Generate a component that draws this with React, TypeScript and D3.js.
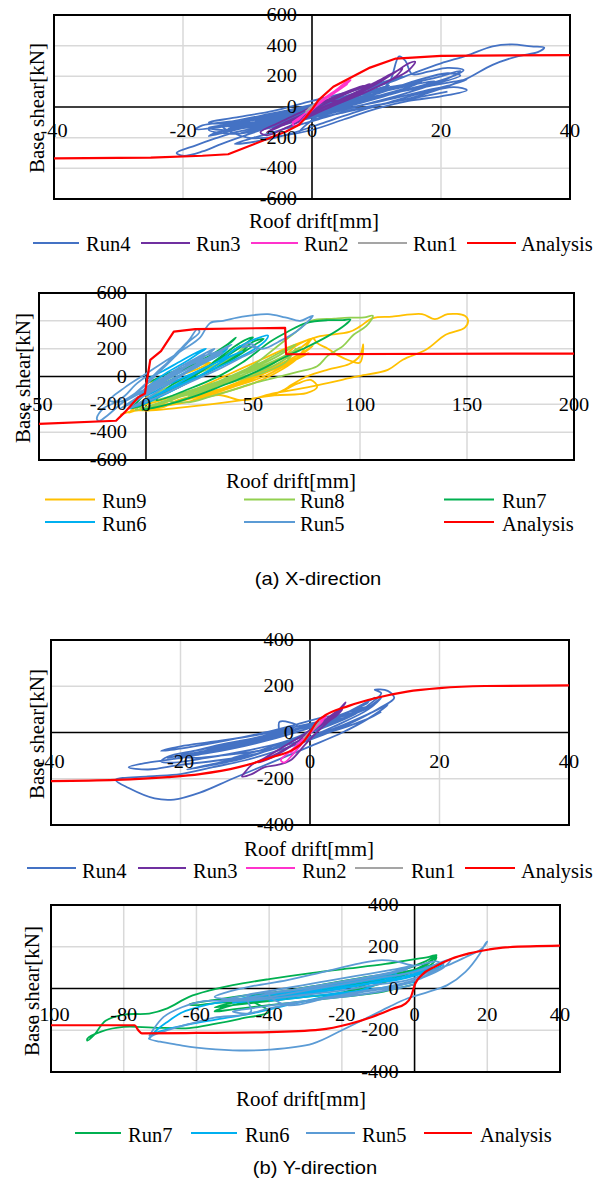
import React from 'react';
import * as d3 from 'd3';

type P = [number, number];

// ---------- (a) X-direction, Runs 1-4 ----------
const xaRun4: P[] = [
  [0, -10], [3, 30], [6, 70], [4, 45], [0, -15], [-4, -70], [-7, -110], [-5, -85], [0, -20], [5, 50], [9, 105], [12, 140],
  [10, 110], [5, 45], [0, -35], [-5, -95], [-10, -135], [-14, -150], [-16, -135], [-12, -110], [-6, -55], [0, 5], [6, 65],
  [12, 120], [16, 160], [20, 200], [23, 235], [22, 205], [18, 150], [12, 80], [6, 15], [0, -55], [-6, -115], [-12, -165],
  [-15, -205], [-18, -250], [-21, -300], [-20, -318], [-17, -290], [-14, -240], [-10, -180], [-5, -110], [0, -40], [5, 25],
  [10, 95], [12, 160], [13.5, 330], [14.5, 300], [15.5, 215], [18, 230], [21, 255], [23.5, 240], [21, 185], [15, 95], [9, 25],
  [3, -40], [-3, -100], [-8, -150], [-12, -175], [-16, -150], [-12, -105], [-6, -45], [0, 15], [6, 80], [12, 160], [16, 225],
  [20, 285], [24, 335], [28, 395], [31, 408], [34, 395], [36, 388], [35, 358], [32, 332], [28, 275], [24, 185], [20, 120],
  [15, 55], [10, 10], [5, -35], [0, -90], [-2, -160], [-1, -120], [2, -30], [8, 40], [14, 105], [19, 150], [23, 205], [21, 220],
  [16, 170], [10, 85], [4, 25], [-2, -40], [-8, -95], [-14, -130], [-18, -145], [-17, -120], [-12, -90], [-6, -40], [0, 10],
  [6, 70], [11, 120], [15, 150], [17, 165], [15, 130], [10, 70], [4, 10], [-2, -50], [-8, -110], [-13, -160], [-16, -190],
  [-15, -170], [-10, -120], [-4, -60], [2, 0], [8, 55], [13, 95], [18, 135], [22, 165], [24, 180], [22, 150], [17, 100],
  [11, 40], [5, -10], [0, -60], [-6, -120], [-11, -170], [-9, -150], [-4, -90], [2, -20], [7, 40], [12, 90], [14, 115],
  [12, 80], [7, 20], [1, -40], [-5, -90], [-10, -130], [-13, -140], [-9, -100], [-3, -40], [3, 20], [9, 80], [14, 130],
  [19, 170], [17, 140], [12, 90], [6, 30], [0, -30], [-6, -80], [-12, -110], [-16, -100], [-12, -70], [-6, -25], [0, 40],
  [5, 90], [10, 150], [14, 200], [12, 170], [8, 110], [3, 40], [-2, -20], [-8, -80], [-14, -120], [-10, -200], [-5, -190],
  [0, -150], [5, -80], [10, -10], [15, 40], [20, 70], [24, 110], [22, 130], [17, 90], [12, 30], [7, -30], [2, -100],
  [-3, -170], [-8, -220], [-12, -240], [-9, -200], [-4, -140], [1, -80], [6, -20], [11, 20], [16, 60], [21, 100],
];
const xaRun3: P[] = [
  [0, 0], [3, 50], [6, 100], [8, 140], [6, 110], [2, 40], [-2, -40], [-5, -100], [-8, -165], [-7, -185], [-4, -135], [0, -55],
  [4, 25], [8, 105], [11, 175], [13, 230], [15, 285], [16, 295], [15, 240], [12, 170], [8, 90], [4, 20], [0, -50], [-4, -110],
  [-7, -165], [-6, -140], [-2, -60], [3, 20], [7, 100], [10, 165], [12, 205], [10, 150], [6, 70], [2, 0], [-2, -70], [-5, -120],
  [-3, -80], [1, 0], [5, 80], [9, 150], [7, 120], [3, 40], [6, 60], [10, 130], [13, 200], [14, 250], [12, 210], [9, 140],
  [5, 60], [1, -20], [-3, -90], [-6, -140], [-4, -100], [0, -30], [4, 40], [8, 110],
];
const xaRun2: P[] = [
  [0, 0], [2, 60], [4, 120], [5, 155], [6, 175], [5, 140], [3, 80], [1, 20], [-1, -40], [-2, -80], [-3, -110], [-2.5, -125],
  [-1.5, -85], [0, -20], [2, 50], [4, 110], [5.5, 150], [4.5, 120], [2, 50], [0, -10], [-2, -70], [-3, -100], [-1, -40], [1, 30], [3, 90],
];
const xaRun1: P[] = [[-1, -30], [0, 0], [1, 40], [1.5, 60], [0.5, 20], [-0.5, -10], [-1, -40]];
const xaAnalysis: P[] = [
  [-40, -335], [-25, -330], [-17, -318], [-13, -308], [-4, -160], [-2, -116], [-1, -70], [0, -15], [1, 45], [3.3, 132],
  [9, 257], [13, 316], [20, 334], [40, 338],
];

// ---------- (a) X-direction, Runs 5-9 ----------
const xbRun9: P[] = [
  [0, -50], [10, 0], [20, 60], [30, 100], [25, 60], [15, 0], [5, -80], [-3, -200], [-8, -260], [-5, -245], [5, -220], [20, -180],
  [35, -120], [50, -50], [60, 20], [70, 120], [75, 220], [78, 275], [80, 240], [85, 200], [90, 150], [95, 115], [100, 100],
  [101.5, 230], [100, 150], [95, 90], [85, 50], [75, 0], [68, -60], [64, -100], [58, -140], [65, -95], [71, -50], [77, -25],
  [80, -75], [75, -120], [60, -135], [45, -170], [30, -200], [15, -225], [0, -245], [-5, -230], [5, -180], [20, -120],
  [35, -60], [50, 20], [60, 100], [70, 180], [77, 270], [75, 260], [65, 200], [55, 130], [45, 60], [35, -10], [25, -80],
  [15, -150], [5, -210], [-3, -240], [10, -200], [30, -120], [45, -40], [55, 50], [65, 150], [70, 220], [80, 285], [95, 320],
  [100, 360], [106, 420], [115, 430], [129, 448], [135, 412], [141, 448], [149, 436], [150.5, 400], [149, 351], [140, 300],
  [131, 194], [120, 120], [113, 48], [100, 5], [95, -12], [77, -73], [60, -120], [45, -170], [34, -133], [20, -180],
  [40, -80], [55, 0], [65, 80], [72, 150], [78, 220], [74, 180], [64, 100], [52, 20], [40, -60], [28, -130], [45, -30],
  [60, 60], [70, 130], [76, 170], [70, 120], [58, 40], [46, -40], [30, -110], [15, -170], [8.5, -218], [-8, -254], [-12, -275],
];
const xbRun8: P[] = [
  [0, -100], [10, -50], [20, 0], [30, 60], [40, 130], [45, 200], [48, 230], [44, 180], [35, 100], [25, 30], [15, -40],
  [5, -120], [-2, -200], [-5, -240], [0, -220], [10, -170], [25, -110], [40, -40], [55, 30], [65, 100], [70, 200], [68, 160],
  [60, 80], [50, 20], [40, -30], [30, -90], [20, -150], [10, -200], [0, -230], [-4, -210], [10, -150], [25, -80], [40, 0],
  [50, 80], [60, 200], [70, 320], [77, 400], [88, 415], [95, 423], [102, 425], [106, 436], [103, 363], [97, 300], [92, 218],
  [85, 150], [80, 73], [70, 30], [60, -10], [50, -50], [40, -100], [30, -145], [20, -185], [10, -170], [25, -90], [40, 0],
  [55, 80], [65, 150], [72, 210], [68, 170], [58, 90], [45, 10], [32, -70], [20, -140], [35, -40], [50, 60], [62, 150],
  [70, 230], [66, 200], [55, 110], [42, 20], [30, -60], [15, -150], [0, -235],
];
const xbRun7: P[] = [
  [0, -50], [10, 20], [20, 80], [30, 150], [35, 200], [40, 250], [42, 280], [38, 230], [30, 150], [20, 70], [10, -20],
  [0, -120], [-5, -200], [-7, -230], [-3, -210], [5, -150], [15, -80], [25, 0], [35, 80], [45, 180], [50, 250], [55, 270],
  [50, 220], [40, 120], [30, 40], [20, -30], [10, -100], [0, -180], [-4, -220], [5, -150], [15, -60], [25, 30], [33, 120],
  [40, 200], [46, 260], [50, 280], [46, 230], [38, 150], [28, 60], [18, -30], [10, -100], [20, -20], [30, 80], [38, 160],
  [44, 220], [40, 180], [32, 100], [22, 20], [12, -60], [5, -170], [20, -90], [35, 10], [45, 100],
  [52, 180], [58, 250], [66, 320], [75, 385], [85, 405], [92, 405], [95.5, 410], [93, 370], [85, 290], [75, 210], [65, 140],
  [55, 60], [45, -10], [35, -70], [25, -130], [15, -180], [5, -220], [-2, -240],
];
const xbRun6: P[] = [
  [0, -20], [8, 40], [15, 100], [22, 160], [28, 200], [25, 170], [18, 100], [10, 30], [2, -60], [-5, -180], [-8, -230],
  [-3, -200], [5, -130], [15, -50], [25, 40], [35, 120], [42, 200], [48, 250], [54, 285], [57, 295], [56, 260], [50, 190],
  [40, 110], [30, 40], [20, -30], [10, -100], [0, -170], [-6, -220], [0, -190], [10, -120], [20, -40], [30, 50], [38, 130],
  [45, 180], [40, 150], [30, 80], [20, 10], [10, -60], [0, -140], [5, -80], [15, 0], [25, 80], [32, 150], [38, 200],
  [35, 160], [26, 90], [16, 10], [6, -70],
];
const xbRun5: P[] = [
  [0, 0], [-5, -60], [-10, -140], [-15, -190], [-20, -230], [-23, -300], [-22, -320], [-18, -280], [-12, -200], [-5, -120],
  [0, -50], [5, 30], [10, 100], [15, 180], [20, 260], [24, 340], [25, 320], [20, 250], [14, 150], [8, 60], [2, -30],
  [-5, -120], [-12, -180], [-17, -170], [-10, -80], [0, 20], [10, 120], [18, 200], [25, 275], [30, 385], [36, 400], [45, 430],
  [57, 448], [65, 425], [72, 400], [76, 425], [78, 436], [76, 400], [70, 320], [62, 250], [55, 200], [48, 218], [45, 210],
  [48, 240], [52, 200], [45, 140], [35, 60], [25, -10], [15, -80], [5, -150], [-3, -200], [-8, -230], [-2, -180], [8, -80],
  [18, 20], [28, 110], [35, 180], [40, 230], [35, 190], [25, 100], [15, 20], [5, -60], [-3, -140], [0, -80], [8, -10],
  [15, 60], [22, 120], [28, 170], [32, 200], [28, 150], [20, 80], [12, 10], [4, -60], [-4, -130], [-10, -180], [-6, -140],
  [2, -70], [10, 0], [18, 70], [26, 140], [34, 180], [38, 210], [33, 160], [24, 80], [15, 0], [6, -80], [-2, -150],
  [-8, -200], [-12, -230], [-6, -170], [4, -80], [12, 0], [20, 80], [30, 140], [36, 170], [30, 120], [20, 40], [10, -40], [0, -120],
];
const xbAnalysis: P[] = [
  [-50, -340], [-14, -318], [-10, -258], [-3.5, -148], [-0.5, -122], [2, 120], [7, 183], [13, 322], [23, 340], [65, 350],
  [65.5, 160], [200, 165],
];

// ---------- (b) Y-direction, Runs 1-4 ----------
const yaRun4: P[] = [
  [0, 0], [4, 60], [8, 120], [10, 150], [8, 120], [3, 40], [-3, -40], [-8, -90], [-12, -110], [-8, -80], [-2, -20], [4, 50],
  [9, 110], [11, 150], [9, 100], [4, 30], [-2, -40], [-8, -80], [-14, -100], [-18, -110], [-20, -100], [-15, -60], [-8, -20],
  [-2, 30], [-4.7, 46], [-5, 0], [-12, -50], [-18, -80], [-22, -105], [-23, -125], [-21, -130], [-16, -110], [-10, -80],
  [-4, -40], [2, 20], [7, 80], [10, 140], [11, 170], [10, 185], [12, 180], [13, 150], [11, 110], [7, 50], [2, -10],
  [-4, -70], [-10, -120], [-15, -150], [-20, -180], [-25, -190], [-30, -205], [-28, -240], [-24, -285], [-21, -290],
  [-17, -260], [-12, -200], [-6, -130], [0, -60], [5, 0], [9, 60], [12, 120], [9, 80], [4, 20], [-2, -40], [-8, -90],
  [-14, -120], [-20, -140], [-25, -160], [-28, -150], [-25, -130], [-20, -110], [-15, -80], [-10, -50], [-5, -20], [0, 20],
  [5, 60], [10, 120], [5, 80], [0, 30], [-6, -20], [-12, -60], [-18, -90], [-22, -110], [-19, -95], [-13, -60], [-7, -20],
  [-1, 20], [5, 70], [8, 100], [6, 70], [0, 20], [-6, -30], [-12, -70], [-18, -100], [-21, -115], [-17, -85], [-11, -45],
  [-5, -5], [1, 40], [6, 90], [9, 130], [7, 100], [1, 40], [-5, -10], [-11, -55], [-16, -85], [-20, -105], [-15, -75],
  [-9, -35], [-3, 10], [2, 50], [-3, 20], [-9, -15], [-15, -40], [-20, -60], [-23, -80], [-19, -65], [-13, -35], [-7, 0],
  [-2, 35], [3, 70], [0, 10], [-5, -60], [-10, -110], [-15, -140], [-19, -160], [-14, -130], [-8, -90], [-2, -40], [4, 10],
  [9, 60], [11, 90],
];
const yaRun3: P[] = [
  [0, 0], [2, 40], [4, 80], [5, 110], [5.5, 130], [4.5, 100], [2, 50], [-1, -10], [-4, -60], [-7, -110], [-9, -140],
  [-10, -170], [-10.5, -190], [-9, -180], [-7, -150], [-5, -140], [-3, -120], [-1, -60], [1, 0], [3, 50], [5, 100], [4, 70],
  [1, 20], [-2, -40], [-5, -90], [-8, -130], [-6, -110], [-3, -60], [0, 0], [3, 60], [4.5, 90],
];
const yaRun2: P[] = [
  [0, 0], [1, 30], [2, 60], [2.5, 70], [1.5, 40], [0, 0], [-1.5, -40], [-3, -80], [-4.5, -120], [-4, -130], [-2.5, -90],
  [-1, -40], [0.5, 10], [2, 50], [1, 30], [-1, -30], [-3, -90],
];
const yaRun1: P[] = [[-1, -25], [0, 0], [1, 30], [1.5, 45], [0.5, 15], [-0.5, -10], [-1, -30]];
const yaAnalysis: P[] = [
  [-40, -210], [-30, -205], [-22, -193], [-17, -180], [-11, -150], [-6, -108], [-2.5, -72], [-1, -40], [0, 0], [1, 45],
  [2, 68], [6, 115], [10, 148], [15, 177], [20, 192], [27, 201], [40, 204],
];

// ---------- (b) Y-direction, Runs 5-7 ----------
const ybRun7: P[] = [
  [0, 20], [-5, 0], [-10, -20], [-20, -40], [-30, -60], [-40, -80], [-50, -100], [-55, -110], [-50, -80], [-40, -50],
  [-30, -20], [-20, 10], [-10, 40], [0, 80], [5, 120], [6, 150], [3, 110], [-5, 60], [-15, 20], [-25, -10], [-35, -40],
  [-45, -60], [-55, -70], [-60, -80], [-62, -75], [-55, -55], [-45, -30], [-35, -10], [-25, 20], [-15, 50], [-5, 80],
  [3, 130], [6, 160], [5, 140], [0, 90], [-10, 40], [-20, -20], [-30, -40], [-40, -60], [-50, -80], [-55, -90], [-48, -60],
  [-38, -30], [-28, 0], [-18, 30], [-8, 60], [0, 90], [-6, 70], [-16, 40], [-26, 10], [-36, -20], [-46, -45], [-40, -110],
  [-48, -145], [-55, -170], [-62, -190], [-72, -187], [-80, -184], [-86, -205], [-90, -240], [-90, -250], [-88, -220],
  [-85, -155], [-80, -125], [-73, -120], [-68, -95], [-62, -40], [-56, -8], [-50, 16], [-40, 45], [-28, 75], [-18, 96],
  [-8, 118], [-2, 135], [4, 152], [6, 160], [4, 125], [-2, 70], [-10, 20], [-20, -20],
];
const ybRun6: P[] = [
  [0, 30], [-10, 0], [-20, -20], [-30, -40], [-40, -60], [-35, -40], [-25, -10], [-15, 20], [-5, 50], [3, 80], [5, 100],
  [0, 70], [-10, 30], [-20, 0], [-30, -30], [-40, -50], [-50, -70], [-45, -55], [-35, -30], [-25, 0], [-15, 30], [-5, 60],
  [5, 110], [8, 120], [5, 90], [-5, 40], [-10, 30], [-20, 0], [-30, -20], [-40, -45], [-50, -65], [-45, -45], [-35, -20],
  [-25, 10], [-15, 40], [-5, 70], [-15, -10], [-25, -40], [-35, -80], [-45, -120], [-55, -150], [-62, -172],
  [-68, -195], [-72, -220], [-73, -240], [-71, -200], [-68, -160], [-64, -115], [-58, -82], [-52, -62], [-46, -42],
  [-38, -22], [-28, 2], [-18, 28], [-8, 55], [0, 80], [5, 100],
];
const ybRun5: P[] = [
  [0, 20], [-5, 0], [-15, -30], [-25, -50], [-35, -70], [-45, -95], [-50, -110], [-46, -120], [-40, -95], [-30, -60],
  [-20, -30], [-10, 0], [0, 40], [5, 80], [8, 110], [6, 130], [0, 110], [-5, 130], [-10, 135], [-15, 120], [-25, 80],
  [-35, 40], [-45, 10], [-52, -20], [-55, -40], [-50, -50], [-40, -40], [-30, -10], [-20, 20], [-10, 50], [0, 80], [8, 130],
  [10, 140], [8, 100], [2, 50], [-5, 10], [-15, -20], [-25, -50], [-35, -80], [-40, -30], [-30, 0], [-20, 30], [-10, 60],
  [-2, 90], [-8, 70], [-18, 40], [-28, 10], [-38, -20], [-48, -50], [-54, -60], [-46, -30], [-36, 0], [-26, 30], [-16, 60],
  [-6, 90], [0, 110], [-6, 80], [-16, 45], [-26, 15], [-36, -15], [-46, -40], [-45, -110], [-55, -140], [-62, -170],
  [-68, -200], [-72, -225], [-73, -240], [-70, -255], [-65, -270], [-60, -283], [-50, -296], [-40, -293], [-28, -264],
  [-20, -200], [-12.5, -136], [-7, -88], [-2, -48], [4, -15], [9, 16], [14, 80], [18, 168], [19.5, 216], [20, 225], [19, 200],
  [18, 185], [14, 150], [9, 110], [4, 80], [0, 50], [-5, 30], [-10, 20], [-20, -10], [-30, -30], [-40, -50], [-50, -60],
  [-58, -60], [-64, -90], [-69, -136], [-72, -200], [-73, -230],
];
const ybAnalysis: P[] = [
  [-100, -176], [-77, -176], [-76, -200], [-75, -215], [-60, -213], [-40, -209], [-26, -197], [-18, -170], [-11.5, -135],
  [-6, -97], [-2.5, -72], [-1, -40], [0.2, 24], [2, 65], [5.6, 104], [10, 141], [15, 168], [20.5, 187], [25, 197], [40, 205],
];

// ---------- ticks ----------
const ticksX1 = [-40, -20, 0, 20, 40];
const ticksY1 = [-600, -400, -200, 0, 200, 400, 600];
const ticksX2 = [-50, 0, 50, 100, 150, 200];
const ticksY2 = [-600, -400, -200, 0, 200, 400, 600];
const ticksX3 = [-40, -20, 0, 20, 40];
const ticksY3 = [-400, -200, 0, 200, 400];
const ticksX4 = [-100, -80, -60, -40, -20, 0, 20, 40];
const ticksY4 = [-400, -200, 0, 200, 400];

const C = {
  run1: '#A5A5A5', run2: '#FF33CC', run3: '#7030A0', run4: '#4472C4', run5: '#5B9BD5',
  run6: '#00B0F0', run7: '#00B050', run8: '#92D050', run9: '#FFC000', analysis: '#FF0000',
};

const SERIF = 'Liberation Serif, Times New Roman, DejaVu Serif, serif';
const SANS = 'Liberation Sans, Arial, DejaVu Sans, sans-serif';

type Series = { name: string; color: string; data: P[]; smooth: 'cat' | 'lin' | 'mono'; width: number };
type LegendItem = { name: string; color: string; x1: number; x2: number; tx: number; ly: number; by: number };
type Cfg = {
  box: { l: number; t: number; r: number; b: number };
  xd: [number, number]; yd: [number, number];
  xt: number[]; yt: number[];
  series: Series[];
  legend: LegendItem[];
  ylabGap: number; xlabOff: number;
  xTitle: [number, number]; yTitle: [number, number];
  id: string;
};

function Txt(props: { x: number; y: number; size?: number; sx?: number; anchor?: string; rot?: number; fam?: string; children: React.ReactNode }) {
  const { x, y, size = 18.5, sx = 1.1, anchor = 'middle', rot = 0, fam = SERIF, children } = props;
  return (
    <text transform={`translate(${x},${y}) rotate(${rot}) scale(${sx},1)`} textAnchor={anchor as any}
      style={{ fontFamily: fam, fontSize: size + 'px' }} fill="#000">
      {children}
    </text>
  );
}

function Panel({ cfg }: { cfg: Cfg }) {
  const { box } = cfg;
  const x = d3.scaleLinear().domain(cfg.xd).range([box.l, box.r]);
  const y = d3.scaleLinear().domain(cfg.yd).range([box.b, box.t]);
  const curves = {
    cat: d3.curveCatmullRom.alpha(0.5),
    lin: d3.curveLinear,
    mono: d3.curveMonotoneX,
  };
  const x0 = x(0), y0 = y(0);
  const [xmin, xmax] = cfg.xd, [ymin, ymax] = cfg.yd;
  return (
    <g>
      <defs>
        <clipPath id={cfg.id}>
          <rect x={box.l} y={box.t} width={box.r - box.l} height={box.b - box.t} />
        </clipPath>
      </defs>
      {cfg.xt.filter(v => v !== 0 && v !== xmin && v !== xmax).map(v => (
        <line key={'gx' + v} x1={x(v)} x2={x(v)} y1={box.t} y2={box.b} stroke="#D9D9D9" strokeWidth={1.5} />
      ))}
      {cfg.yt.filter(v => v !== 0 && v !== ymin && v !== ymax).map(v => (
        <line key={'gy' + v} x1={box.l} x2={box.r} y1={y(v)} y2={y(v)} stroke="#D9D9D9" strokeWidth={1.5} />
      ))}
      <line x1={x0} x2={x0} y1={box.t} y2={box.b} stroke="#000" strokeWidth={1.6} />
      <line x1={box.l} x2={box.r} y1={y0} y2={y0} stroke="#000" strokeWidth={1.6} />
      <rect x={box.l} y={box.t} width={box.r - box.l} height={box.b - box.t} fill="none" stroke="#000" strokeWidth={2} />
      <g clipPath={`url(#${cfg.id})`}>
        {cfg.series.map(s => {
          const gen = d3.line<P>().x(d => x(d[0])).y(d => y(d[1])).curve(curves[s.smooth] as any);
          return <path key={s.name} d={gen(s.data) || ''} fill="none" stroke={s.color} strokeWidth={s.width} strokeLinejoin="round" />;
        })}
      </g>
      {cfg.yt.map(v => (
        <Txt key={'ly' + v} x={x0 - cfg.ylabGap} y={y(v) + 6} anchor="end">{String(v)}</Txt>
      ))}
      {cfg.xt.map(v => (
        <Txt key={'lx' + v} x={x(v)} y={y0 + cfg.xlabOff}>{String(v)}</Txt>
      ))}
      <Txt x={cfg.xTitle[0]} y={cfg.xTitle[1]} size={21} sx={1}>Roof drift[mm]</Txt>
      <Txt x={cfg.yTitle[0] + 7} y={cfg.yTitle[1]} size={21} sx={1} rot={-90}>Base shear[kN]</Txt>
      {cfg.legend.map(it => (
        <g key={'lg' + it.name}>
          <line x1={it.x1} x2={it.x2} y1={it.ly} y2={it.ly} stroke={it.color} strokeWidth={2.2} />
          <Txt x={it.tx} y={it.by} size={20.5} sx={1} anchor="start">{it.name}</Txt>
        </g>
      ))}
    </g>
  );
}

function leg(names: string[], colors: string[], x1s: number[], x2s: number[], txs: number[], ly: number, by: number): LegendItem[] {
  return names.map((n, i) => ({ name: n, color: colors[i], x1: x1s[i], x2: x2s[i], tx: txs[i], ly, by }));
}

const RW = 1.8;
const AW = 2.2;

const panel1: Cfg = {
  id: 'c1', box: { l: 54, t: 15, r: 570, b: 199 }, xd: [-40, 40], yd: [-600, 600], xt: ticksX1, yt: ticksY1,
  series: [
    { name: 'Run4', color: C.run4, data: xaRun4, smooth: 'cat', width: RW },
    { name: 'Run3', color: C.run3, data: xaRun3, smooth: 'cat', width: RW },
    { name: 'Run2', color: C.run2, data: xaRun2, smooth: 'cat', width: RW },
    { name: 'Run1', color: C.run1, data: xaRun1, smooth: 'cat', width: RW },
    { name: 'Analysis', color: C.analysis, data: xaAnalysis, smooth: 'lin', width: AW },
  ],
  legend: leg(['Run4', 'Run3', 'Run2', 'Run1', 'Analysis'], [C.run4, C.run3, C.run2, C.run1, C.analysis],
    [33, 141, 251, 358, 467], [79, 190, 298, 407, 516], [86, 196, 304, 413, 521], 243, 251),
  ylabGap: 15, xlabOff: 30, xTitle: [314, 228], yTitle: [37, 108],
};

const panel2: Cfg = {
  id: 'c2', box: { l: 39, t: 293, r: 574, b: 460 }, xd: [-50, 200], yd: [-600, 600], xt: ticksX2, yt: ticksY2,
  series: [
    { name: 'Run9', color: C.run9, data: xbRun9, smooth: 'cat', width: RW },
    { name: 'Run8', color: C.run8, data: xbRun8, smooth: 'cat', width: RW },
    { name: 'Run7', color: C.run7, data: xbRun7, smooth: 'cat', width: RW },
    { name: 'Run6', color: C.run6, data: xbRun6, smooth: 'cat', width: RW },
    { name: 'Run5', color: C.run5, data: xbRun5, smooth: 'cat', width: RW },
    { name: 'Analysis', color: C.analysis, data: xbAnalysis, smooth: 'lin', width: AW },
  ],
  legend: [
    ...leg(['Run9', 'Run8', 'Run7'], [C.run9, C.run8, C.run7], [45, 244, 444], [95, 295, 494], [102, 300, 502], 499.5, 508),
    ...leg(['Run6', 'Run5', 'Analysis'], [C.run6, C.run5, C.analysis], [45, 244, 444], [95, 295, 494], [102, 300, 502], 522, 530.5),
  ],
  ylabGap: 19, xlabOff: 34, xTitle: [291, 488], yTitle: [23, 378],
};

const panel3: Cfg = {
  id: 'c3', box: { l: 51, t: 640, r: 569, b: 825 }, xd: [-40, 40], yd: [-400, 400], xt: ticksX3, yt: ticksY3,
  series: [
    { name: 'Run4', color: C.run4, data: yaRun4, smooth: 'cat', width: RW },
    { name: 'Run3', color: C.run3, data: yaRun3, smooth: 'cat', width: RW },
    { name: 'Run2', color: C.run2, data: yaRun2, smooth: 'cat', width: RW },
    { name: 'Run1', color: C.run1, data: yaRun1, smooth: 'cat', width: RW },
    { name: 'Analysis', color: C.analysis, data: yaAnalysis, smooth: 'mono', width: AW },
  ],
  legend: leg(['Run4', 'Run3', 'Run2', 'Run1', 'Analysis'], [C.run4, C.run3, C.run2, C.run1, C.analysis],
    [27, 138, 246, 355, 465], [76, 186, 295, 403, 515], [82, 193, 302, 411, 521], 868, 878),
  ylabGap: 16, xlabOff: 35, xTitle: [309, 856], yTitle: [37, 734],
};

const panel4: Cfg = {
  id: 'c4', box: { l: 51, t: 905, r: 560, b: 1072 }, xd: [-100, 40], yd: [-400, 400], xt: ticksX4, yt: ticksY4,
  series: [
    { name: 'Run7', color: C.run7, data: ybRun7, smooth: 'cat', width: RW },
    { name: 'Run6', color: C.run6, data: ybRun6, smooth: 'cat', width: RW },
    { name: 'Run5', color: C.run5, data: ybRun5, smooth: 'cat', width: RW },
    { name: 'Analysis', color: C.analysis, data: ybAnalysis, smooth: 'mono', width: AW },
  ],
  legend: leg(['Run7', 'Run6', 'Run5', 'Analysis'], [C.run7, C.run6, C.run5, C.analysis],
    [75, 191, 306, 424], [121, 237, 355, 472], [128, 245, 362, 480], 1133, 1142),
  ylabGap: 16, xlabOff: 32, xTitle: [301, 1106], yTitle: [32, 991],
};

export default function App() {
  return (
    <svg width={608} height={1178} style={{ position: 'absolute', left: 0, top: 0, background: '#fff' }}>
      <rect x={0} y={0} width={608} height={1178} fill="#fff" />
      <Panel cfg={panel1} />
      <Panel cfg={panel2} />
      <Txt x={318} y={585} size={18} sx={1.12} fam={SANS}>(a)    X-direction</Txt>
      <Panel cfg={panel3} />
      <Panel cfg={panel4} />
      <Txt x={315} y={1174} size={18} sx={1.12} fam={SANS}>(b) Y-direction</Txt>
    </svg>
  );
}
